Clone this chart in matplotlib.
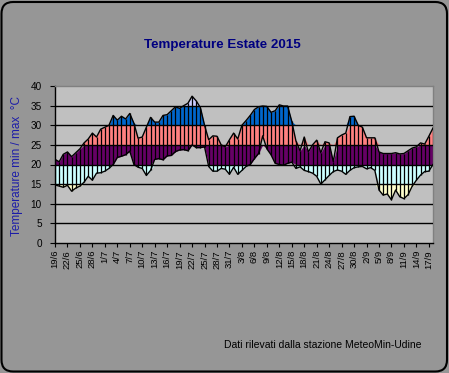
import numpy as np
import matplotlib
matplotlib.use("Agg")
import matplotlib.pyplot as plt
from matplotlib.patches import FancyBboxPatch
import datetime as dt

# ---- data -------------------------------------------------------------
start = dt.date(2015, 6, 19)
n_days = 92
dates = [start + dt.timedelta(days=i) for i in range(n_days)]
labels = [f"{d.day}/{d.month}" for d in dates]

t_max = [21.3, 20.7, 22.6, 23.2, 22.0, 23.0, 24.0, 25.5, 26.5, 28.0,
         27.0, 29.0, 29.5, 30.0, 32.5, 31.3, 32.3, 31.6, 33.0, 30.5,
         26.7, 27.0, 29.5, 32.0, 30.8, 30.8, 32.5, 32.7, 33.7, 34.7,
         34.3, 35.0, 35.6, 37.4, 36.2, 34.5, 30.0, 26.3, 27.3, 27.2,
         25.0, 24.5, 26.3, 28.0, 26.5, 30.0, 31.2, 32.5, 34.0, 34.7,
         34.9, 34.8, 33.3, 33.7, 35.2, 34.9, 34.9, 31.0, 26.0, 23.5,
         27.0, 23.2, 25.0, 26.2, 23.0, 25.8, 25.5, 20.7, 26.8, 27.5,
         28.0, 32.2, 32.3, 30.0, 29.5, 26.8, 26.8, 26.8, 23.2, 22.8,
         22.8, 22.8, 23.0, 22.7, 22.8, 23.5, 24.2, 24.5, 25.5, 25.2,
         27.2, 29.3]

t_min = [14.8, 14.5, 14.2, 14.7, 13.2, 14.0, 14.5, 15.5, 17.0, 16.0,
         17.8, 17.9, 18.3, 19.0, 20.0, 21.8, 22.1, 22.5, 23.4, 20.0,
         19.3, 19.0, 17.2, 18.5, 21.3, 21.5, 21.2, 22.2, 22.3, 23.3,
         23.7, 23.8, 23.5, 25.0, 24.3, 24.3, 24.5, 19.5, 18.3, 18.3,
         19.0, 18.8, 17.5, 19.3, 17.5, 18.5, 19.5, 20.0, 21.5, 22.8,
         27.3, 24.0, 22.5, 20.3, 20.0, 19.8, 20.3, 20.6, 19.0, 19.4,
         18.5, 18.2, 17.8, 17.0, 15.0, 16.1, 17.2, 18.2, 18.6, 18.3,
         17.5, 18.5, 19.2, 19.4, 19.5, 18.9, 19.2, 18.5, 13.5, 12.2,
         12.5, 11.0, 13.5, 11.8, 11.3, 12.3, 14.5, 16.0, 17.3, 18.2,
         18.3, 20.0]

band_edges = [10, 15, 20, 25, 30, 35, 40]
band_colors = ["#FFFFCC", "#CCFFFF", "#660066", "#FF8080", "#0066CC", "#CCCCFF"]

yticks = [0, 5, 10, 15, 20, 25, 30, 35, 40]
label_step = 3

# ---- figure -------------------------------------------------------------
W, H = 449, 373
fig = plt.figure(figsize=(W / 100, H / 100), dpi=100)
fig.patch.set_facecolor("#969696")
plt.rcParams["font.family"] = ["Liberation Sans", "DejaVu Sans"]

# rounded outer border
border = FancyBboxPatch((1.5 / W, 1.5 / H), (W - 3.5) / W, (H - 3.5) / H,
                        boxstyle="round,pad=0,rounding_size=0.026",
                        transform=fig.transFigure, facecolor="none",
                        edgecolor="black", linewidth=1.5, zorder=5,
                        mutation_aspect=W / H)
fig.patches.append(border)

left, right, top, bottom = 55, 433, 86, 243
ax = fig.add_axes([left / W, (H - bottom) / H, (right - left) / W, (bottom - top) / H])
ax.set_facecolor("#C0C0C0")
ax.set_zorder(2)

x = np.arange(n_days)
tmin = np.array(t_min)
tmax = np.array(t_max)

for lo, hi, col in zip(band_edges[:-1], band_edges[1:], band_colors):
    ax.fill_between(x, np.clip(tmin, lo, hi), np.clip(tmax, lo, hi),
                    color=col, linewidth=0, zorder=2)

ax.vlines(x, tmin, tmax, colors="black", linewidth=0.9, zorder=3)
ax.plot(x, tmax, color="black", linewidth=1.0, zorder=4)
ax.plot(x, tmin, color="black", linewidth=1.0, zorder=4)

for yv in yticks[1:-1]:
    ax.axhline(yv, color="black", linewidth=1.0, zorder=3.5)

ax.set_xlim(0, n_days - 1)
ax.set_ylim(0, 40)
ax.set_yticks(yticks)
ax.set_yticklabels([str(v) for v in yticks], fontsize=7.2)
tick_idx = list(range(0, n_days, label_step))
ax.set_xticks(tick_idx)
ax.set_xticklabels([labels[i] for i in tick_idx], rotation=90, fontsize=6.8,
                   va="top", ha="center")
ax.tick_params(axis="y", length=3.5, width=0.8, pad=6, colors="black")
ax.tick_params(axis="x", length=3, width=0.8, pad=2, colors="black")

for s in ["left", "bottom"]:
    ax.spines[s].set_color("black")
    ax.spines[s].set_linewidth(1.0)
for s in ["top", "right"]:
    ax.spines[s].set_color("#808080")
    ax.spines[s].set_linewidth(1.0)

fig.text(222 / W, 1 - 45 / H, "Temperature Estate 2015", ha="center", va="center",
         fontsize=9.6, fontweight="bold", color="#000080")
fig.text(17 / W, 1 - 166 / H, "Temperature min / max  °C", ha="center", va="center",
         rotation=90, fontsize=8.5, color="#1C1CA8")
fig.text(323 / W, 1 - 345 / H, "Dati rilevati dalla stazione MeteoMin-Udine",
         ha="center", va="center", fontsize=7.5, color="black")

fig.savefig("out.png", dpi=100, facecolor=fig.get_facecolor())
